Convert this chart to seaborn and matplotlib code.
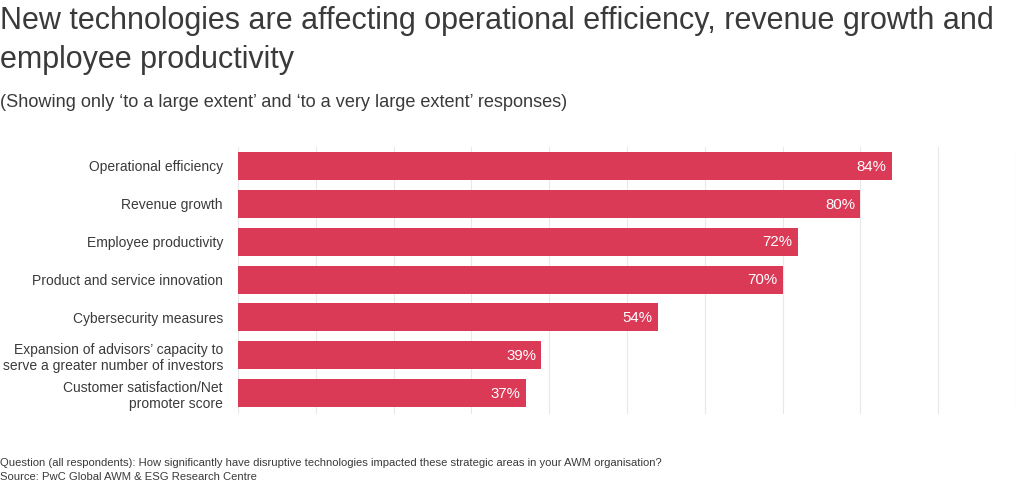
import matplotlib
matplotlib.use("Agg")
import matplotlib.pyplot as plt
import seaborn as sns
import pandas as pd

categories = [
    "Operational efficiency",
    "Revenue growth",
    "Employee productivity",
    "Product and service innovation",
    "Cybersecurity measures",
    "Expansion of advisors\u2019 capacity to\nserve a greater number of investors",
    "Customer satisfaction/Net\npromoter score",
]
values = [84, 80, 72, 70, 54, 39, 37]
value_labels = ["84%", "80%", "72%", "70%", "54%", "39%", "37%"]

title = "New technologies are affecting operational efficiency, revenue growth and\nemployee productivity"
subtitle = "(Showing only \u2018to a large extent\u2019 and \u2018to a very large extent\u2019 responses)"
footer = ("Question (all respondents): How significantly have disruptive technologies impacted these strategic areas in your AWM organisation?\n"
          "Source: PwC Global AWM & ESG Research Centre")

sns.set_theme(style="white")
plt.rcParams["font.family"] = ["Liberation Sans", "DejaVu Sans"]

BAR = "#DB3A57"
TXT = "#3a3a3a"

df = pd.DataFrame({"category": categories, "value": values})

fig = plt.figure(figsize=(10.2, 4.84), dpi=100)
ax = fig.add_axes([238/1020, 1-414/484, (1016-238)/1020, (414-147)/484])

sns.barplot(data=df, y="category", x="value", color=BAR, orient="h",
            width=0.74, ax=ax, saturation=1, edgecolor="none")

ax.set_xlim(0, 100)
ax.set_ylim(6.55, -0.5)
ax.set_xticks(range(0, 101, 10))
ax.xaxis.grid(True, color="#e8e8e8", linewidth=0.8)
ax.set_axisbelow(True)
ax.tick_params(axis="x", length=0, labelbottom=False)
ax.tick_params(axis="y", length=0, labelsize=10.0, labelcolor=TXT, pad=10.8)
for lbl in ax.get_yticklabels():
    lbl.set_linespacing(1.2)
ax.set_xlabel("")
ax.set_ylabel("")
for s in ax.spines.values():
    s.set_visible(False)

for i, (v, t) in enumerate(zip(values, value_labels)):
    ax.text(v - 0.7, i + 0.02, t, ha="right", va="center", color="white", fontsize=10.8)

fig.text(0.0, 1-6/484, title, ha="left", va="top", fontsize=22, color=TXT, linespacing=1.38)
fig.text(0.0, 1-94/484, subtitle, ha="left", va="top", fontsize=13.1, color=TXT)
fig.text(0.0, 1-458/484, footer, ha="left", va="top", fontsize=8.1, color=TXT, linespacing=1.45)

fig.savefig("out.png", dpi=100)
